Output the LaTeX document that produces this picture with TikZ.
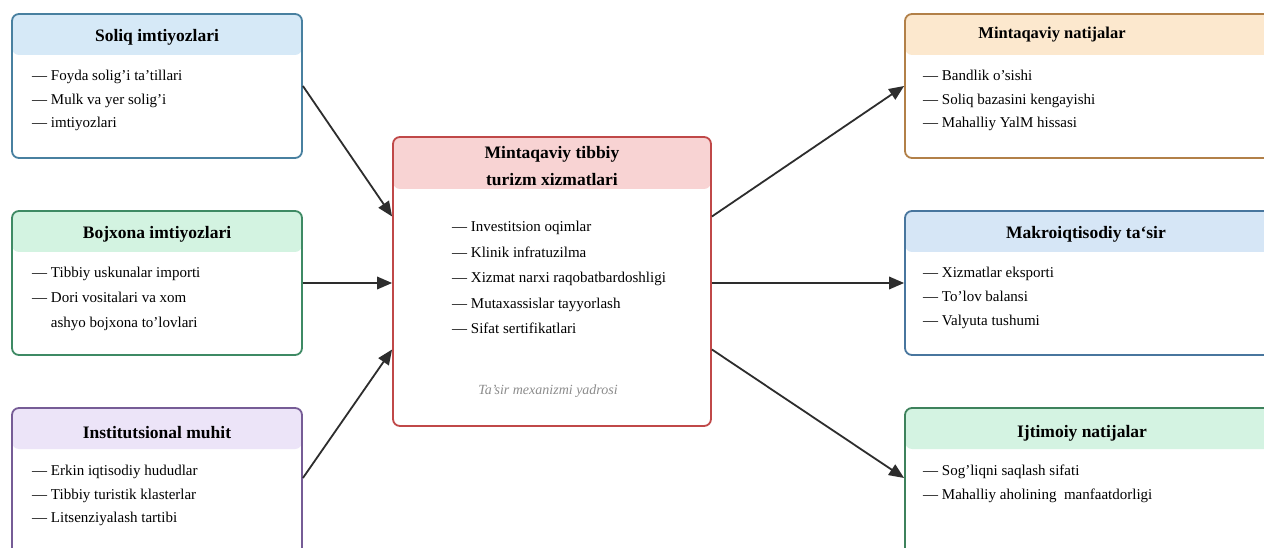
\documentclass[tikz,border=0pt]{standalone}
\usepackage{fontspec}
\setmainfont{Liberation Serif}
\usetikzlibrary{arrows.meta}
\usetikzlibrary{calc}

\definecolor{soliqline}{RGB}{72,128,160}
\definecolor{soliqhead}{RGB}{214,233,247}
\definecolor{bojline}{RGB}{62,138,100}
\definecolor{bojhead}{RGB}{211,243,225}
\definecolor{instline}{RGB}{118,92,150}
\definecolor{insthead}{RGB}{236,228,248}
\definecolor{yadroline}{RGB}{192,72,72}
\definecolor{yadrohead}{RGB}{248,211,211}
\definecolor{mintline}{RGB}{178,128,72}
\definecolor{minthead}{RGB}{252,232,206}
\definecolor{makroline}{RGB}{72,118,158}
\definecolor{makrohead}{RGB}{214,230,246}
\definecolor{ijtline}{RGB}{62,130,92}
\definecolor{ijthead}{RGB}{212,243,226}
\definecolor{linkgray}{RGB}{45,45,45}

\def\thickness{1.8pt}
\tikzstyle{panel}=[rectangle, rounded corners=7pt, line width=\thickness, fill=white, inner sep=0pt, minimum width=290pt, minimum height=144pt]
\tikzset{head/.style 2 args={path picture={
    \fill[#1] (path picture bounding box.north west) rectangle ([yshift=-#2pt]path picture bounding box.north east);}}
}
\tikzstyle{title}=[font=\fontsize{17.5}{27}\selectfont\bfseries, align=center, inner sep=0pt]
\tikzstyle{body}=[font=\fontsize{15}{24}\selectfont, align=left, anchor=north west, inner sep=0pt]
\tikzstyle{link}=[line width=\thickness, draw=linkgray, -{Triangle[length=15pt,width=12.5pt]}]

\begin{document}
\begin{tikzpicture}[x=1pt, y=-1pt]
\clip (0,0) rectangle (1264,548);
\fill[white] (0,0) rectangle (1264,548);

% left column
\node [panel, draw=soliqline, head={soliqhead}{41}] (soliq) at (157,86) {};
\node [panel, draw=bojline, head={bojhead}{41}] (bojxona) at (157,283) {};
\node [panel, draw=instline, head={insthead}{41}, minimum height=152pt] (institut) at (157,484) {};

% core
\node [panel, draw=yadroline, head={yadrohead}{52}, minimum width=318pt, minimum height=289pt] (yadro) at (552,281.5) {};

% right column
\node [panel, draw=mintline, head={minthead}{41}, minimum width=385pt] (mintaqa) at (1097.5,86) {};
\node [panel, draw=makroline, head={makrohead}{41}, minimum width=385pt] (makro) at (1097.5,283) {};
\node [panel, draw=ijtline, head={ijthead}{41}, minimum width=385pt, minimum height=152pt] (ijtimoiy) at (1097.5,484) {};

% titles
\node [title] (soliqT) at (157,37) {Soliq imtiyozlari};
\node [title] (bojxonaT) at (157,234) {Bojxona imtiyozlari};
\node [title] (institutT) at (157,433) {Institutsional muhit};
\node [title] (yadroT) at (552,166) {Mintaqaviy tibbiy\\turizm xizmatlari};
\node [title, font=\fontsize{16.5}{20}\selectfont\bfseries] (mintaqaT) at (1052,35) {Mintaqaviy natijalar};
\node [title] (makroT) at (1086,234) {Makroiqtisodiy ta‘sir};
\node [title] (ijtimoiyT) at (1082,433) {Ijtimoiy natijalar};

% item lists
\node [body, font=\fontsize{15}{23.5}\selectfont] (soliqB) at (32,70) {— Foyda solig’i ta’tillari\\— Mulk va yer solig’i\\— imtiyozlari};
\node [body, font=\fontsize{15}{25}\selectfont] (bojxonaB) at (32,267) {— Tibbiy uskunalar importi\\— Dori vositalari va xom\\\phantom{— }ashyo bojxona to’lovlari};
\node [body, font=\fontsize{15}{23.5}\selectfont] (institutB) at (32,465) {— Erkin iqtisodiy hududlar\\— Tibbiy turistik klasterlar\\— Litsenziyalash tartibi};
\node [body, font=\fontsize{15}{25.5}\selectfont] (yadroB) at (452,221) {— Investitsion oqimlar\\— Klinik infratuzilma\\— Xizmat narxi raqobatbardoshligi\\— Mutaxassislar tayyorlash\\— Sifat sertifikatlari};
\node [font=\fontsize{14}{16}\selectfont\itshape, text=black!45] (yadroN) at (548,391) {Ta’sir mexanizmi yadrosi};
\node [body, font=\fontsize{15}{23.5}\selectfont] (mintaqaB) at (923,70) {— Bandlik o’sishi\\— Soliq bazasini kengayishi\\— Mahalliy YalM hissasi};
\node [body] (makroB) at (923,267) {— Xizmatlar eksporti\\— To’lov balansi\\— Valyuta tushumi};
\node [body] (ijtimoiyB) at (923,465) {— Sog’liqni saqlash sifati\\— Mahalliy aholining\ \ manfaatdorligi};

% connectors
\draw [link] (soliq.east) to ([yshift=65pt]yadro.west);
\draw [link] (bojxona.east) to ([yshift=-1.5pt]yadro.west);
\draw [link] ([yshift=6pt]institut.east) to ([yshift=-68pt]yadro.west);
\draw [link] ([yshift=65pt]yadro.east) to (mintaqa.west);
\draw [link] ([yshift=-1.5pt]yadro.east) to (makro.west);
\draw [link] ([yshift=-68pt]yadro.east) to ([yshift=6pt]ijtimoiy.west);
\end{tikzpicture}
\end{document}
